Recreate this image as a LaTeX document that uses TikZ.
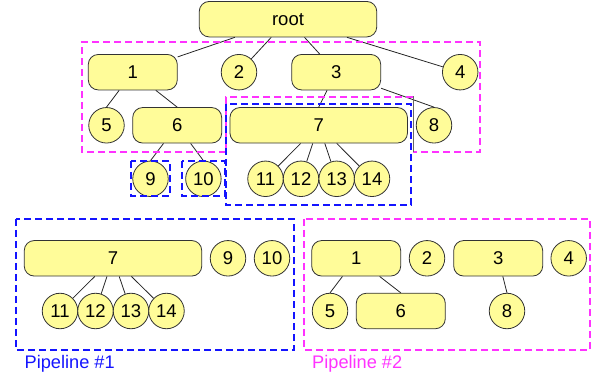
\documentclass[tikz,border=0pt]{standalone}
\usepackage{fontspec}
\setmainfont{Liberation Sans}
\usetikzlibrary{shapes.misc}

\definecolor{nodefill}{RGB}{255,252,153}
\definecolor{pipeblue}{RGB}{20,20,255}
\definecolor{pipemag}{RGB}{255,50,255}

\begin{document}
\begin{tikzpicture}[x=1pt,y=-1pt,
    box/.style={draw=black!80,fill=nodefill,line width=0.8pt,rounded corners=10pt,
        minimum width=89pt,minimum height=35.5pt,inner sep=0pt},
    widebox/.style={box,minimum width=177.5pt},
    leaf/.style={draw=black!80,fill=nodefill,line width=0.8pt,circle,
        minimum size=35.5pt,inner sep=0pt},
    pipe1/.style={draw=pipeblue,line width=1.4pt,dash pattern=on 7pt off 4pt},
    pipe2/.style={draw=pipemag,line width=1.4pt,dash pattern=on 7pt off 4pt}]

    \useasboundingbox (0,0) rectangle (597,379);

        % the whole tree
        \begin{scope}[every node/.style={font=\fontsize{18.5}{20}\selectfont}]
            \node[widebox] (root) at (288,19.2) {root};
            \node[box] (1) at (132.8,72.2) {1};
            \node[leaf] (2) at (239,72.2) {2};
            \node[box] (3) at (336.2,72.2) {3};
            \node[leaf] (4) at (460.2,72.2) {4};
            \node[leaf] (5) at (106.5,125.3) {5};
            \node[box] (6) at (177.2,125.3) {6};
            \node[widebox] (7) at (318.7,125.3) {7};
            \node[leaf] (8) at (434,125.3) {8};
            \node[leaf] (9) at (150.5,178.8) {9};
            \node[leaf] (10) at (203.4,178.8) {10};
            \node[leaf] (11) at (265.5,178.8) {11};
            \node[leaf] (12) at (301,178.8) {12};
            \node[leaf] (13) at (336.7,178.8) {13};
            \node[leaf] (14) at (372,178.8) {14};
        \end{scope}

        % pipeline #1
        \begin{scope}[every node/.style={font=\fontsize{18.5}{20}\selectfont}]
            \node[widebox] (p7) at (113,258.3) {7};
            \node[leaf] (p9) at (228,258.3) {9};
            \node[leaf] (p10) at (272,258.3) {10};
            \node[leaf] (p11) at (60,311) {11};
            \node[leaf] (p12) at (95.5,311) {12};
            \node[leaf] (p13) at (131,311) {13};
            \node[leaf] (p14) at (166.5,311) {14};
        \end{scope}

        % pipeline #2
        \begin{scope}[every node/.style={font=\fontsize{18.5}{20}\selectfont}]
            \node[box] (q1) at (356.2,258.3) {1};
            \node[leaf] (q2) at (427,258.3) {2};
            \node[box] (q3) at (498.2,258.3) {3};
            \node[leaf] (q4) at (568.7,258.3) {4};
            \node[leaf] (q5) at (330,311) {5};
            \node[box] (q6) at (400.8,311) {6};
            \node[leaf] (q8) at (507,311) {8};
        \end{scope}

        \begin{scope}[every edge/.style={draw=black!85,line width=0.8pt}]
            \path (root) edge (1);
            \path (root) edge (2);
            \path (root) edge (3);
            \path (root) edge (4);

            \path (1) edge (5.north);
            \path (1) edge (6.north);

            \path (3) edge (7.north);
            \path (3) edge (8.north);

            \path (6) edge (9.north);
            \path (6) edge (10.north);

            \path (7) edge (11);
            \path (7) edge (12);
            \path (7) edge (13);
            \path (7) edge (14);

            \path (p7) edge (p11);
            \path (p7) edge (p12);
            \path (p7) edge (p13);
            \path (p7) edge (p14);

            \path (q1) edge (q5.north);
            \path (q1) edge (q6.north);
            \path (q3) edge (q8.north);
        \end{scope}

        % dashed groups
        \draw[pipe2] (413,97) -- (226,97) -- (226,152) -- (82,152)
            -- (82,42) -- (480,42) -- (480,152) -- (413,152);
        \draw[black!60,line width=0.9pt] (413.5,96.5) -- (413.5,152.5);
        \draw[pipe1] (226,104) rectangle (411,205);
        \draw[pipe1] (131,161) rectangle (170,196);
        \draw[pipe1] (182,161) rectangle (225,196);

        \draw[pipe1] (16,219) rectangle (294,350);
        \draw[pipe2] (304,219) rectangle (590,350);
        \node[anchor=base west,text=pipeblue,inner sep=0pt,font=\fontsize{18.2}{20}\selectfont]
            (lab1) at (24.5,368.5) {Pipeline \#1};
        \node[anchor=base west,text=pipemag,inner sep=0pt,font=\fontsize{18.2}{20}\selectfont]
            (lab2) at (312,368.5) {Pipeline \#2};

    \end{tikzpicture}
\end{document}
